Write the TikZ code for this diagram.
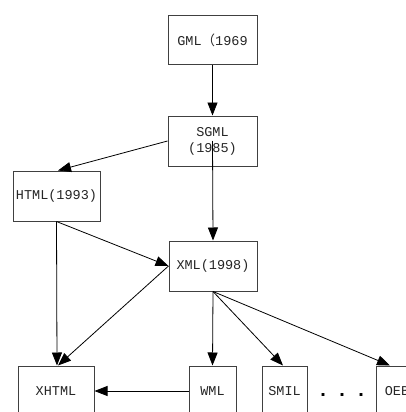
\documentclass[tikz,border=0pt]{standalone}
\usepackage{fontspec}
\setmainfont{Liberation Mono}
\newfontfamily\cjk{Noto Sans CJK SC}
\usetikzlibrary{arrows.meta}
\tikzset{
  langbox/.style={draw=black!75, line width=1pt, text=black!85, font=\fontsize{13.5}{16}\selectfont,
                  align=center, inner sep=0pt},
  derive/.style={-{Triangle[length=13pt,width=10pt]}, line width=0.8pt}
}
\begin{document}
\begin{tikzpicture}[x=1pt,y=-1pt]
    \clip (0,0) rectangle (406,412);
    \fill[white] (0,0) rectangle (406,412);
    % Markup family tree
    \node[langbox, minimum width=89pt, minimum height=49pt] (gml) at (212.5,40.5) {GML{\cjk （}1969};
    \node[langbox, minimum width=89pt, minimum height=50pt] (sgml) at (212.5,141) {SGML\\(1985)};
    \node[langbox, minimum width=87pt, minimum height=50pt] (html) at (56.5,196) {HTML(1993)};
    \node[langbox, minimum width=88pt, minimum height=50pt] (xml) at (213,266) {XML(1998)};
    
    % Bottom row
    \node[langbox, minimum width=76pt, minimum height=50pt] (xhtml) at (56,391) {XHTML};
    \node[langbox, minimum width=47pt, minimum height=50pt] (wml) at (212.5,391) {WML};
    \node[langbox, minimum width=45pt, minimum height=50pt] (smil) at (284.5,391) {SMIL};
    \node[langbox, minimum width=42pt, minimum height=50pt] (oeb) at (397,391) {OEB};
    \node[font=\fontsize{20}{20}\bfseries, inner sep=0pt] (dots) at (342,395) {.\hspace{7pt}.\hspace{7pt}.};
    
    \draw[derive] (gml.south) -- (sgml.north);
    \draw[derive] (sgml.center) -- (xml.north);
    \draw[derive] (sgml.west) -- ([xshift=1.5pt]html.north);
    \draw[derive] (html.south) -- (xml.west);
    \draw[derive] (html.south) -- ([xshift=1pt]xhtml.north);
    \draw[derive] (xml.west) -- ([xshift=2pt]xhtml.north);
    \draw[derive] (xml.south) -- (wml.north);
    \draw[derive] (xml.south) -- ([xshift=-1.5pt]smil.north);
    \draw[derive] (xml.south) -- ([xshift=-7pt]oeb.north);
    \draw[derive] (wml.west) -- (xhtml.east);
\end{tikzpicture}
\end{document}
